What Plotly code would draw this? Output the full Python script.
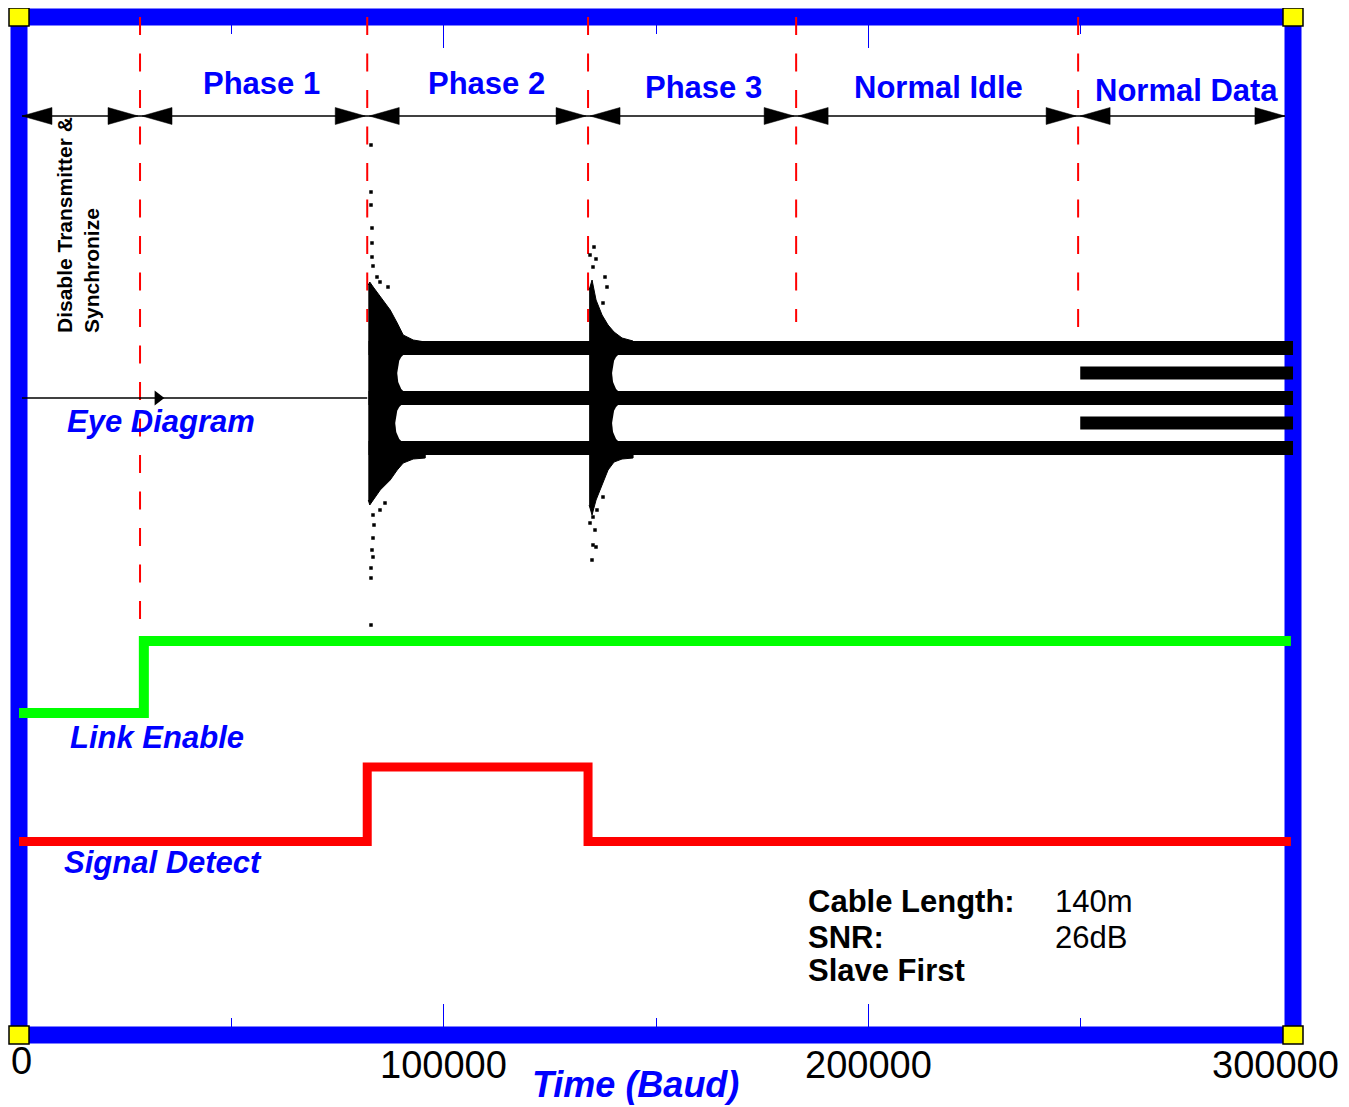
import plotly.graph_objects as go

# ---------------- data (x in Baud, y in arbitrary amplitude units) ----------------
X_MAX = 300000
Y_RANGE = [-12.74, 7.62]

tick_vals = [0, 100000, 200000, 300000]
tick_text = ["0", "100000", "200000", "300000"]
minor_tick_vals = [50000, 150000, 250000]

phase_bounds = [28500, 82000, 134000, 183000, 249400]      # red dashed separators
phase_bound_ends = [-5.18, 1.52, 1.52, 1.52, 0.86]         # lower end of each separator
phase_names = ["Phase 1", "Phase 2", "Phase 3", "Normal Idle", "Normal Data"]
phase_name_x = [57100, 110000, 161100, 216600, 274900]
phase_name_y = [6.30, 6.30, 6.22, 6.22, 6.16]
arrow_start, arrow_end, arrow_y = 700, 298100, 5.64

# Link Enable / Signal Detect step signals
link_x = [0, 29400, 299500]
link_y = [-6.30, -4.86, -4.86]
sd_x = [0, 82000, 134000, 299500]
sd_y = [-8.87, -7.38, -8.87, -8.87]

# Eye diagram
eye_pre_x = [700, 82000]
eye_pre_y = [0, 0]
eye_blip_x = [32700]
eye_blip_y = [0]
eye_levels_3 = [1, 0, -1]
eye_levels_3_x = [82300, 300500]
eye_levels_extra = [0.5, -0.5]
eye_levels_extra_x = [249900, 300500]

burst1_x = [82250, 82600, 83413, 85061, 87416, 89064, 90477, 92832, 95658]
burst1_top = [2.26, 2.32, 2.22, 2.02, 1.76, 1.50, 1.26, 1.16, 1.12]
burst1_bot = [-2.04, -2.14, -2.04, -1.84, -1.64, -1.44, -1.30, -1.22, -1.20]
burst2_x = [134250, 134942, 135884, 137297, 138710, 140122, 142006, 144597]
burst2_top = [2.16, 2.36, 1.96, 1.66, 1.46, 1.32, 1.20, 1.14]
burst2_bot = [-2.14, -2.34, -2.04, -1.74, -1.44, -1.28, -1.22, -1.20]

eye_centers = [0.5, -0.5]
eye_half = 0.37
burst1_eye_tip = [89064, 88594]
burst2_eye_tip = [139652, 139652]
eye_open_dx = [0, 235, 471, 942, 1413, 1884, 9419]
eye_open_frac = [0, 0.48, 0.66, 0.87, 0.97, 1.0, 1.0]

dots_x = [82889, 82889, 82889, 83124, 83124, 83124, 83360, 84302, 85008, 86892,
          83360, 83596, 83360, 83124, 83360, 82889, 82889, 82889, 85008, 86186,
          135401, 134460, 135872, 135166, 137991, 138462, 137520, 136107, 135166,
          134460, 135636, 135166, 135872, 134930, 137520]
dots_y = [5.06, 4.12, 3.86, 3.40, 3.10, 2.82, 2.64, 2.42, 2.32, 2.22,
          -2.34, -2.54, -2.80, -3.04, -3.18, -3.40, -3.60, -4.54, -2.24, -2.10,
          3.02, 2.86, 2.78, 2.62, 2.42, 2.22, 1.90, -2.24, -2.38,
          -2.50, -2.64, -2.94, -2.98, -3.24, -1.98]

info_labels = ["Cable Length:", "SNR:", "Slave First"]
info_values = ["140m", "26dB", ""]
info_y = [-10.06, -10.78, -11.44]

# ---------------- figure ----------------
FONT = "Liberation Sans, Arial, Helvetica, sans-serif"
BLUE = "#0000FF"
fig = go.Figure()

fig.add_trace(go.Scatter(x=eye_pre_x, y=eye_pre_y, mode="lines",
                         line=dict(color="black", width=1.5), hoverinfo="skip"))
fig.add_trace(go.Scatter(x=eye_blip_x, y=eye_blip_y, mode="markers",
                         marker=dict(symbol="triangle-right", size=13, color="black"),
                         hoverinfo="skip"))

for bx, bt, bb in [(burst1_x, burst1_top, burst1_bot), (burst2_x, burst2_top, burst2_bot)]:
    fig.add_trace(go.Scatter(x=bx + bx[::-1], y=bt + bb[::-1], mode="lines",
                             fill="toself", fillcolor="black",
                             line=dict(color="black", width=1), hoverinfo="skip"))

for tips in (burst1_eye_tip, burst2_eye_tip):
    for c, t in zip(eye_centers, tips):
        xs = [t + d for d in eye_open_dx]
        up = [c + eye_half * f for f in eye_open_frac]
        lo = [c - eye_half * f for f in eye_open_frac]
        fig.add_trace(go.Scatter(x=xs + xs[::-1], y=up + lo[::-1], mode="lines",
                                 fill="toself", fillcolor="white",
                                 line=dict(color="white", width=0), hoverinfo="skip"))

for lvl in eye_levels_3:
    fig.add_trace(go.Scatter(x=eye_levels_3_x, y=[lvl, lvl], mode="lines",
                             line=dict(color="black", width=14), hoverinfo="skip"))
for lvl in eye_levels_extra:
    fig.add_trace(go.Scatter(x=eye_levels_extra_x, y=[lvl, lvl], mode="lines",
                             line=dict(color="black", width=13), hoverinfo="skip"))

fig.add_trace(go.Scatter(x=dots_x, y=dots_y, mode="markers",
                         marker=dict(size=3.5, color="black", symbol="square"),
                         hoverinfo="skip"))

fig.add_trace(go.Scatter(x=link_x, y=link_y, mode="lines", line_shape="hv",
                         line=dict(color="#00FF00", width=10), hoverinfo="skip"))
fig.add_trace(go.Scatter(x=sd_x, y=sd_y, mode="lines", line_shape="hv",
                         line=dict(color="#FF0000", width=9), hoverinfo="skip"))

# phase arrows
px_per_baud = 1274 / X_MAX
gap = 2 / px_per_baud
head_len = 30 / px_per_baud
head_h = 0.17
pts = [arrow_start] + phase_bounds + [arrow_end]
hx, hy = [], []
for i in range(len(pts) - 1):
    a, b = pts[i], pts[i + 1]
    ga = 0 if i == 0 else gap
    gb = 0 if i == len(pts) - 2 else gap
    hx += [a + ga, a + ga + head_len, a + ga + head_len, a + ga, None]
    hy += [arrow_y, arrow_y + head_h, arrow_y - head_h, arrow_y, None]
    hx += [b - gb, b - gb - head_len, b - gb - head_len, b - gb, None]
    hy += [arrow_y, arrow_y + head_h, arrow_y - head_h, arrow_y, None]
fig.add_trace(go.Scatter(x=[arrow_start, arrow_end], y=[arrow_y, arrow_y], mode="lines",
                         line=dict(color="black", width=1.3), hoverinfo="skip"))
fig.add_trace(go.Scatter(x=hx, y=hy, mode="lines", fill="toself", fillcolor="black",
                         line=dict(color="black", width=0.5), hoverinfo="skip"))

shapes = []
for xb, yb in zip(phase_bounds, phase_bound_ends):
    shapes.append(dict(type="line", xref="x", yref="y", x0=xb, x1=xb, y0=Y_RANGE[1], y1=yb,
                       line=dict(color="#FF0000", width=2, dash="18px,18.5px"), layer="below"))
shapes.append(dict(type="rect", xref="paper", yref="paper", x0=0, x1=1, y0=0, y1=1,
                   line=dict(color=BLUE, width=17), fillcolor="rgba(0,0,0,0)", layer="below"))
for cx in (0, 1):
    for cy in (0, 1):
        shapes.append(dict(type="rect", xref="paper", yref="paper", xsizemode="pixel",
                           ysizemode="pixel", xanchor=cx, yanchor=cy,
                           x0=-10, x1=10, y0=-9, y1=9, fillcolor="#FFFF00",
                           line=dict(color="black", width=1.5), layer="above"))

ann = []
for name, x, y in zip(phase_names, phase_name_x, phase_name_y):
    ann.append(dict(x=x, y=y, text="<b>%s</b>" % name, showarrow=False,
                    font=dict(family=FONT, size=31, color=BLUE),
                    xanchor="center", yanchor="middle"))
ann.append(dict(x=13900, y=3.46, text="<b>Disable Transmitter &amp;<br>Synchronize</b>",
                textangle=-90, align="left", showarrow=False,
                font=dict(family=FONT, size=21, color="black"),
                xanchor="center", yanchor="middle"))
for txt, x, y in [("Eye Diagram", 10832, -0.46), ("Link Enable", 11539, -6.78),
                  ("Signal Detect", 10126, -9.28)]:
    ann.append(dict(x=x, y=y, text="<b><i>%s</i></b>" % txt, showarrow=False,
                    font=dict(family=FONT, size=31, color=BLUE),
                    xanchor="left", yanchor="middle"))
for lab, val, y in zip(info_labels, info_values, info_y):
    ann.append(dict(x=185300, y=y, text="<b>%s</b>" % lab, showarrow=False,
                    font=dict(family=FONT, size=31, color="black"),
                    xanchor="left", yanchor="middle"))
    if val:
        ann.append(dict(x=243600, y=y, text=val, showarrow=False,
                        font=dict(family=FONT, size=31, color="black"),
                        xanchor="left", yanchor="middle"))
tick_label_xshift = [2, 0, 0, -18]
tick_label_yshift = [-25.5, -30, -30, -30]
for v, t, xs, ys in zip(tick_vals, tick_text, tick_label_xshift, tick_label_yshift):
    ann.append(dict(x=v, xref="x", y=0, yref="paper", text=t, showarrow=False,
                    xshift=xs, yshift=ys, xanchor="center", yanchor="middle",
                    font=dict(family=FONT, size=38, color="black")))
ann.append(dict(x=145056, y=0, yref="paper", yshift=-49, text="<b><i>Time (Baud)</i></b>",
                showarrow=False, xanchor="center", yanchor="middle",
                font=dict(family=FONT, size=36, color=BLUE)))

# the page body has an 8px margin, so the figure is 8px smaller and margins shifted
fig.update_layout(
    width=1341, height=1099,
    margin=dict(l=11, r=56, t=9, b=72, autoexpand=False),
    paper_bgcolor="white", plot_bgcolor="white",
    showlegend=False,
    shapes=shapes, annotations=ann,
    xaxis=dict(range=[0, X_MAX], tickmode="array", tickvals=tick_vals,
               ticks="inside", ticklen=31, tickwidth=1.2, tickcolor=BLUE,
               showticklabels=False, mirror="ticks", showgrid=False, zeroline=False,
               showline=False,
               minor=dict(tickmode="array", tickvals=minor_tick_vals, ticks="inside",
                          ticklen=17, tickwidth=1.2, tickcolor=BLUE, showgrid=False)),
    yaxis=dict(range=Y_RANGE, visible=False, showgrid=False, zeroline=False),
)

fig.write_html("out.html")
